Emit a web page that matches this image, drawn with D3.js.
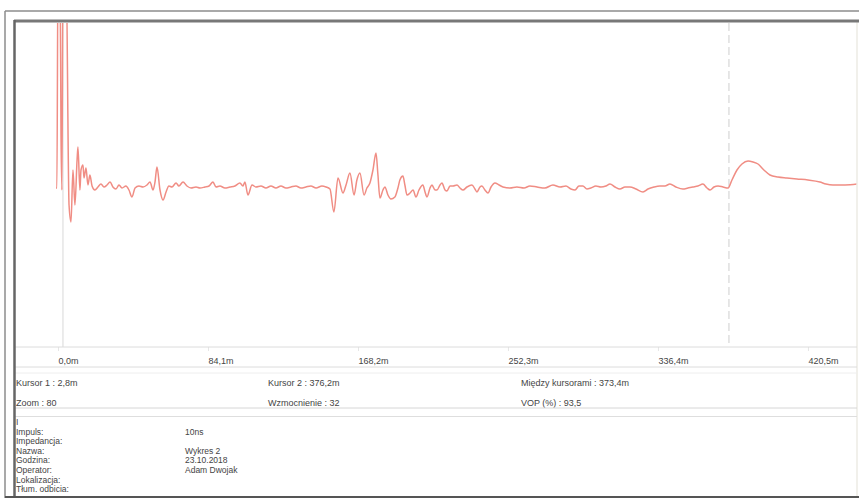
<!DOCTYPE html>
<html>
<head>
<meta charset="utf-8">
<script src="https://cdn.jsdelivr.net/npm/d3@7"></script>
<style>
  body { margin: 0; background: #fff; }
  svg { display: block; font-family: 'Liberation Sans', Arial, sans-serif; }
</style>
</head>
<body>
<div id="chart"></div>
<script>
// TDR trace - distance (m) vs. reflection amplitude (arbitrary units, 0 = cable baseline)

const distance = [
  -1.1, -0.6, 0.0, 1.1, 1.7, 2.2, 2.8, 4.5, 6.2, 7.3, 8.4, 9.5, 10.7, 11.2, 12.3, 12.9, 14.0, 14.6, 15.7, 16.8,
  17.9, 19.1, 20.7, 22.4, 24.1, 25.8, 27.5, 29.2, 30.8, 32.5, 34.2, 35.9, 38.1, 39.8, 41.5, 43.2, 45.4, 47.7, 49.9, 51.6,
  53.3, 54.4, 55.5, 57.2, 58.9, 60.6, 62.2, 63.9, 66.2, 67.8, 70.1, 72.3, 74.6, 77.4, 79.6, 82.4, 84.7, 86.9, 88.6, 90.8,
  93.6, 96.4, 99.2, 102.0, 103.7, 104.8, 106.5, 108.8, 111.0, 113.8, 116.6, 119.4, 122.2, 125.0, 127.8, 130.6, 133.4, 136.2, 139.0, 141.8,
  144.7, 148.0, 150.3, 152.5, 154.7, 157.0, 159.8, 161.5, 163.7, 166.0, 167.6, 169.3, 171.6, 173.2, 174.9, 176.6, 178.3, 179.4, 180.5, 182.2,
  183.3, 185.0, 186.7, 188.9, 190.6, 191.7, 193.4, 194.5, 195.7, 197.4, 199.1, 200.7, 202.4, 204.6, 205.8, 206.9, 208.6, 209.7, 211.4, 212.5,
  214.2, 215.3, 217.0, 218.1, 219.8, 221.5, 223.7, 225.4, 227.1, 229.3, 232.1, 233.8, 234.9, 236.6, 237.7, 239.4, 241.1, 242.8, 245.0, 247.3,
  249.5, 253.4, 257.3, 261.3, 264.6, 268.6, 273.0, 277.5, 281.5, 284.8, 287.6, 289.9, 292.1, 294.3, 296.6, 298.8, 301.6, 304.4, 307.2, 309.5,
  312.3, 315.1, 317.9, 320.7, 324.1, 328.0, 330.8, 334.2, 337.5, 340.3, 343.1, 346.5, 350.4, 353.2, 356.0, 358.8, 361.6, 363.9, 365.6, 367.8,
  370.1, 372.9, 375.7, 377.9, 380.7, 383.5, 386.9, 389.7, 392.5, 395.8, 399.2, 403.7, 408.7, 414.3, 420.5, 427.2, 430.6, 434.5, 441.3, 448.5
]

const amplitude = [
  -1, -1, 227, 227, 52, -3, 227, 227, -18, -35, 17, -18, 27, 40, -3, 17, 22, 9, 19, 2,
  12, 1, -3, 0, 3, 0, 2, 5, 0, -2, 2, -1, 1, -3, -10, -1, 1, 0, 2, 5,
  -3, 5, 20, -3, -13, -5, 1, 0, 4, 1, 5, 1, -1, 0, -1, 0, 1, 5, 0, 1,
  -1, 0, 1, 4, 1, 5, -8, 2, 0, 1, -1, 1, -1, 1, -1, 0, 1, -1, 0, 1,
  -1, 1, 0, -2, -25, 9, -6, 2, 14, -8, 7, 14, -8, -1, 4, 17, 34, 12, -11, -3,
  0, -8, -12, -10, -1, 7, 11, 2, -8, -6, -3, -10, -3, 2, -5, -10, -1, 2, -3, -3,
  2, 4, -3, -4, 1, 1, 2, -1, -3, 0, 2, -2, -5, 0, 1, -3, -6, 0, 4, 2,
  0, -1, 0, -1, 1, 0, -1, 2, 0, 1, -2, -3, 1, 1, -2, -1, 1, 0, 1, 3,
  0, -2, 0, 0, -2, -5, -2, 0, 1, 1, 3, 0, -2, -1, 0, 1, 3, -1, -3, 0,
  1, 0, -1, 7, 17, 23, 26, 25, 23, 17, 12, 10, 9, 8, 7, 5, 3, 2, 2, 3
]

const tickValues = [0, 84.1, 168.2, 252.3, 336.4, 420.5]
const tickLabels = ['0,0m', '84,1m', '168,2m', '252,3m', '336,4m', '420,5m']

const cursor1 = 2.8
const cursor2 = 376.2

const cursorRow1 = ['Kursor 1 : 2,8m', 'Kursor 2 : 376,2m', 'Między kursorami : 373,4m']
const cursorRow2 = ['Zoom : 80', 'Wzmocnienie : 32', 'VOP (%) : 93,5']

const infoLabels = ['I', 'Impuls:', 'Impedancja:', 'Nazwa:', 'Godzina:', 'Operator:', 'Lokalizacja:', 'Tłum. odbicia:']
const infoValues = ['', '10ns', '', 'Wykres  2', '23.10.2018', 'Adam Dwojak', '', '']

const width = 859
const height = 500
const plot = { left: 16, right: 857, top: 23, bottom: 347 }

const svg = d3.select('#chart')
  .append('svg')
  .attr('width', width)
  .attr('height', height)

// Scales
const x = d3.scaleLinear()
  .domain([-24.1, 448])
  .range([15, 857])

const y = d3.scaleLinear()
  .domain([-160, 165])
  .range([347, 22])

// Frame
const frame = svg.append('g').classed('frame', true)

frame.append('line')
  .attr('x1', 5).attr('x2', width).attr('y1', 11).attr('y2', 11)
  .attr('stroke', '#8c8c8c').attr('stroke-width', 1.5)

frame.append('line')
  .attr('x1', 5).attr('x2', 5).attr('y1', 11).attr('y2', 498)
  .attr('stroke', '#8c8c8c').attr('stroke-width', 1.5)

frame.append('line')
  .attr('x1', 857).attr('x2', 857).attr('y1', 22).attr('y2', 496)
  .attr('stroke', '#ecebe4').attr('stroke-width', 1.5)

// Separators
const separators = [
  { y: 347, c: '#dcdcdc' },
  { y: 367, c: '#dcdcdc' },
  { y: 373, c: '#eeeeee' },
  { y: 408, c: '#d6d6d6' },
  { y: 416.5, c: '#dedede' }
]
frame.selectAll('.sep')
  .data(separators)
  .enter()
  .append('line')
  .classed('sep', true)
  .attr('x1', 15).attr('x2', 857)
  .attr('y1', d => d.y).attr('y2', d => d.y)
  .attr('stroke', d => d.c)
  .attr('stroke-width', 1)

// Cursors
svg.append('line')
  .attr('x1', x(cursor1)).attr('x2', x(cursor1))
  .attr('y1', plot.top).attr('y2', plot.bottom)
  .attr('stroke', '#d8d8d8').attr('stroke-width', 1)

svg.append('line')
  .attr('x1', x(cursor2)).attr('x2', x(cursor2))
  .attr('y1', plot.top).attr('y2', plot.bottom)
  .attr('stroke', '#dadada').attr('stroke-width', 1.3)
  .attr('stroke-dasharray', '8,4')

// Trace
svg.append('clipPath')
  .attr('id', 'plot-clip')
  .append('rect')
  .attr('x', plot.left).attr('y', plot.top)
  .attr('width', plot.right - plot.left).attr('height', plot.bottom - plot.top)

const line = d3.line()
  .curve(d3.curveMonotoneX)
  .x(i => x(distance[i]))
  .y(i => y(amplitude[i]))

svg.append('path')
  .datum(d3.range(distance.length))
  .attr('clip-path', 'url(#plot-clip)')
  .attr('d', line)
  .attr('fill', 'none')
  .attr('stroke', '#f08d84')
  .attr('stroke-width', 1.5)
  .attr('stroke-linejoin', 'round')

// Distance axis
const axis = svg.append('g')
  .attr('transform', `translate(0,${plot.bottom})`)
  .call(d3.axisBottom(x)
    .tickValues(tickValues)
    .tickFormat((d, i) => tickLabels[i])
    .tickSize(4))

axis.select('.domain').remove()
axis.selectAll('.tick line').attr('stroke', '#e6e6e6')
axis.selectAll('.tick text')
  .attr('text-anchor', 'start')
  .attr('y', 0)
  .attr('dy', 17)
  .attr('fill', '#444')
  .style('font-size', '9px')
  .style('font-family', "'Liberation Sans', Arial, sans-serif")

// Cursor readouts
const colX = [16, 268, 521]
const readouts = svg.append('g').classed('readouts', true)
  .style('font-size', '9px')
  .attr('fill', '#444')

cursorRow1.forEach((t, i) => {
  readouts.append('text').attr('x', colX[i]).attr('y', 385.5).text(t)
})
cursorRow2.forEach((t, i) => {
  readouts.append('text').attr('x', colX[i]).attr('y', 405.5).text(t)
})

// Info block
const info = svg.append('g').classed('info', true)
  .style('font-size', '8.5px')
  .attr('fill', '#444')

infoLabels.forEach((t, i) => {
  info.append('text').attr('x', 16).attr('y', 425 + i * 9.6).text(t)
  if (infoValues[i]) {
    info.append('text').attr('x', 185).attr('y', 425 + i * 9.6).text(infoValues[i])
  }
})

// Dark inner border drawn last so it sits on top of the trace
frame.raise()
svg.append('line')
  .attr('x1', 14).attr('x2', width).attr('y1', 21).attr('y2', 21)
  .attr('stroke', '#787878').attr('stroke-width', 3)

svg.append('line')
  .attr('x1', 14.5).attr('x2', 14.5).attr('y1', 20).attr('y2', 498)
  .attr('stroke', '#666').attr('stroke-width', 2.5)

svg.append('line')
  .attr('x1', 5).attr('x2', width).attr('y1', 497)
  .attr('y2', 497)
  .attr('stroke', '#555').attr('stroke-width', 2)
</script>
</body>
</html>
